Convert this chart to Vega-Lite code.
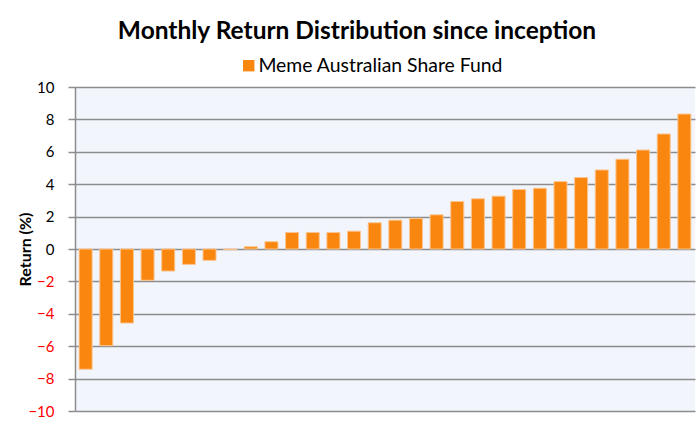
{
  "$schema": "https://vega.github.io/schema/vega-lite/v6.json",
  "autosize": {"type": "none"},
  "width": 620,
  "height": 324,
  "padding": {"left": 75, "top": 87, "right": 4, "bottom": 13},
  "background": "white",
  "title": {
    "text": "Monthly Return Distribution since inception",
    "font": "Lato",
    "fontSize": 24.5,
    "fontWeight": "bold",
    "color": "black",
    "anchor": "middle",
    "frame": "group",
    "dx": -28,
    "baseline": "alphabetic",
    "offset": -7
  },
  "config": {
    "view": {"fill": "#F2F6FC", "stroke": null},
    "font": "Lato"
  },
  "data": {
    "values": [
      {"month": 1, "ret": -7.42, "series": "Meme Australian Share Fund"},
      {"month": 2, "ret": -5.97, "series": "Meme Australian Share Fund"},
      {"month": 3, "ret": -4.57, "series": "Meme Australian Share Fund"},
      {"month": 4, "ret": -1.93, "series": "Meme Australian Share Fund"},
      {"month": 5, "ret": -1.36, "series": "Meme Australian Share Fund"},
      {"month": 6, "ret": -0.95, "series": "Meme Australian Share Fund"},
      {"month": 7, "ret": -0.70, "series": "Meme Australian Share Fund"},
      {"month": 8, "ret": -0.04, "series": "Meme Australian Share Fund"},
      {"month": 9, "ret": 0.14, "series": "Meme Australian Share Fund"},
      {"month": 10, "ret": 0.45, "series": "Meme Australian Share Fund"},
      {"month": 11, "ret": 1.02, "series": "Meme Australian Share Fund"},
      {"month": 12, "ret": 1.02, "series": "Meme Australian Share Fund"},
      {"month": 13, "ret": 1.02, "series": "Meme Australian Share Fund"},
      {"month": 14, "ret": 1.1, "series": "Meme Australian Share Fund"},
      {"month": 15, "ret": 1.62, "series": "Meme Australian Share Fund"},
      {"month": 16, "ret": 1.78, "series": "Meme Australian Share Fund"},
      {"month": 17, "ret": 1.89, "series": "Meme Australian Share Fund"},
      {"month": 18, "ret": 2.11, "series": "Meme Australian Share Fund"},
      {"month": 19, "ret": 2.93, "series": "Meme Australian Share Fund"},
      {"month": 20, "ret": 3.1, "series": "Meme Australian Share Fund"},
      {"month": 21, "ret": 3.26, "series": "Meme Australian Share Fund"},
      {"month": 22, "ret": 3.67, "series": "Meme Australian Share Fund"},
      {"month": 23, "ret": 3.75, "series": "Meme Australian Share Fund"},
      {"month": 24, "ret": 4.16, "series": "Meme Australian Share Fund"},
      {"month": 25, "ret": 4.41, "series": "Meme Australian Share Fund"},
      {"month": 26, "ret": 4.88, "series": "Meme Australian Share Fund"},
      {"month": 27, "ret": 5.54, "series": "Meme Australian Share Fund"},
      {"month": 28, "ret": 6.11, "series": "Meme Australian Share Fund"},
      {"month": 29, "ret": 7.1, "series": "Meme Australian Share Fund"},
      {"month": 30, "ret": 8.33, "series": "Meme Australian Share Fund"}
    ]
  },
  "mark": {"type": "bar", "stroke": "#FBC48F", "strokeWidth": 1},
  "encoding": {
    "x": {
      "field": "month",
      "type": "ordinal",
      "scale": {"paddingInner": 0.37, "paddingOuter": 0.2},
      "axis": null
    },
    "y": {
      "field": "ret",
      "type": "quantitative",
      "scale": {"domain": [-10, 10], "nice": false, "zero": false},
      "axis": {
        "title": "Return (%)",
        "titleFont": "Lato",
        "titleFontSize": 16,
        "titleFontWeight": "bold",
        "titleColor": "black",
        "titleX": -50,
        "titleY": 162,
        "titleAngle": -90,
        "titleAlign": "center",
        "titleBaseline": "middle",
        "values": [-10, -8, -6, -4, -2, 0, 2, 4, 6, 8, 10],
        "labelFont": "Lato",
        "labelFontSize": 15,
        "labelColor": {"condition": {"test": "datum.value < 0", "value": "#FF0000"}, "value": "black"},
        "labelPadding": 14,
        "labelFlush": false,
        "tickSize": 7,
        "tickColor": "#8C8C8C",
        "tickWidth": 1.5,
        "domainColor": "#8C8C8C",
        "domainWidth": 1.5,
        "grid": true,
        "gridColor": "#8C8C8C",
        "gridWidth": 1.5
      }
    },
    "color": {
      "field": "series",
      "type": "nominal",
      "scale": {"range": ["#F9860F"]},
      "legend": {
        "title": null,
        "orient": "none",
        "legendX": 164,
        "legendY": -31,
        "symbolType": "square",
        "symbolSize": 130,
        "symbolStrokeWidth": 0,
        "labelFont": "Lato",
        "labelFontSize": 19.4,
        "labelLimit": 400,
        "labelColor": "black",
        "labelOffset": 0
      }
    }
  }
}
